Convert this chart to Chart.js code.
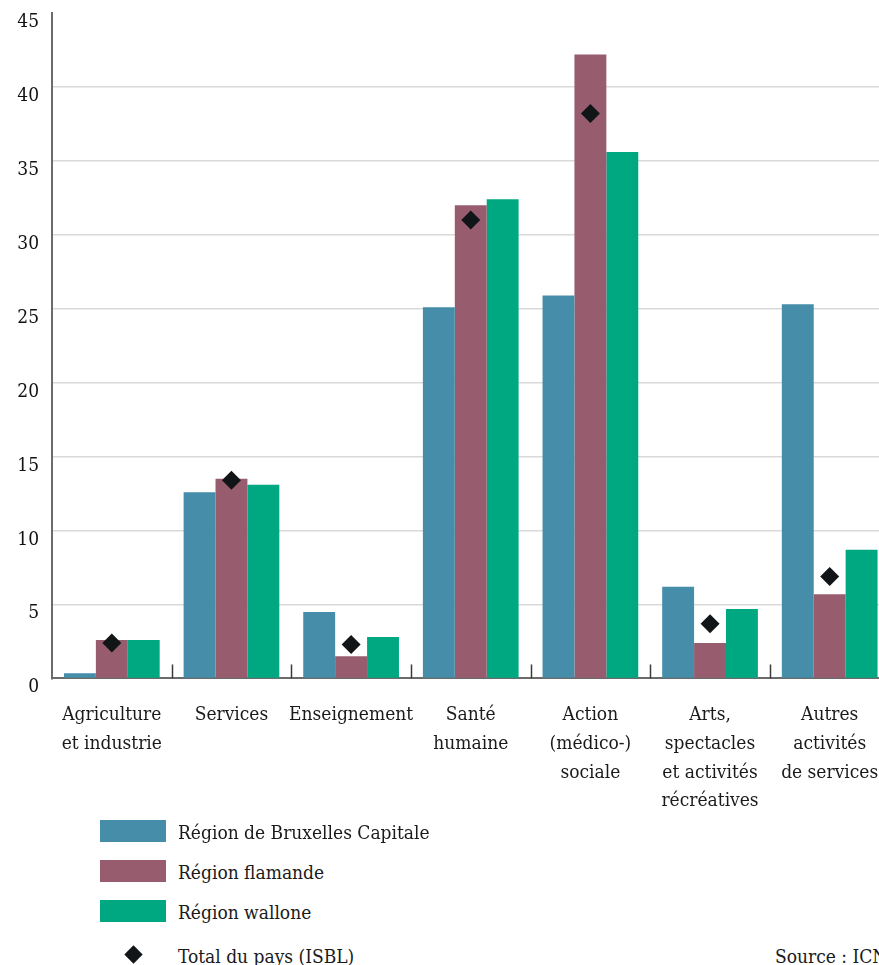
<!DOCTYPE html>
<html lang="fr">
<head>
<meta charset="utf-8">
<title>ISBL par branche d'activité et par région</title>
<script src="https://cdn.jsdelivr.net/npm/chart.js@4.4.1/dist/chart.umd.min.js"></script>
<style>
    html, body {
        margin: 0;
        padding: 0;
        background: #fff;
        width: 879px;
        height: 965px;
        overflow: hidden;
    }
    #wrap {
        position: relative;
        width: 879px;
        height: 965px;
        overflow: hidden;
        font-family: "DejaVu Serif Condensed", "Liberation Serif", serif;
        color: #1a1a1a;
    }
    #chartBox {
        position: absolute;
        left: 0;
        top: 0;
        width: 899px;
        height: 830px;
    }
    .legend-row {
        position: absolute;
        left: 100px;
        height: 22px;
        font-size: 19px;
        line-height: 22px;
        white-space: nowrap;
    }
    .legend-row .swatch {
        position: absolute;
        left: 0;
        top: 0;
        width: 66px;
        height: 22px;
    }
    .legend-row .txt {
        position: absolute;
        left: 78px;
        top: 1px;
    }
    .legend-row .diamond {
        position: absolute;
        left: 27px;
        top: 4px;
        width: 13px;
        height: 13px;
        background: #121518;
        transform: rotate(45deg);
    }
    #source {
        position: absolute;
        left: 775px;
        top: 945px;
        font-size: 19px;
        white-space: nowrap;
    }
</style>
</head>
<body>
<div id="wrap">
    <div id="chartBox"><canvas id="isblChart" width="899" height="830"></canvas></div>
    <div id="legend"></div>
    <div id="source">Source : ICN</div>
</div>

<script>
// ========================================
// Data
// ========================================
const categories = [
    ['Agriculture', 'et industrie'],
    ['Services'],
    ['Enseignement'],
    ['Santé', 'humaine'],
    ['Action', '(médico-)', 'sociale'],
    ['Arts,', 'spectacles', 'et activités', 'récréatives'],
    ['Autres', 'activités', 'de services']
];

const bruxelles = [0.35, 12.6, 4.5, 25.1, 25.9, 6.2, 25.3];
const flandre   = [2.6, 13.5, 1.5, 32.0, 42.2, 2.4, 5.7];
const wallonie  = [2.6, 13.1, 2.8, 32.4, 35.6, 4.7, 8.7];
const totalPays = [2.4, 13.4, 2.3, 31.0, 38.2, 3.7, 6.9];

const yTicks = [0, 5, 10, 15, 20, 25, 30, 35, 40, 45];

const seriesNames = [
    'Région de Bruxelles Capitale',
    'Région flamande',
    'Région wallone',
    'Total du pays (ISBL)'
];

const colors = {
    bruxelles: '#458da9',
    flandre: '#975c6e',
    wallonie: '#00a882',
    total: '#121518',
    axis: '#6b6b6b',
    grid: 'rgba(0, 0, 0, 0.15)'
};

const FONT = '"DejaVu Serif Condensed", "Liberation Serif", serif';

// ========================================
// Small tick marks between categories, on the x axis
// ========================================
const separatorTicks = {
    id: 'separatorTicks',
    afterDatasetsDraw(chart) {
        const x = chart.scales.x;
        const bottom = chart.chartArea.bottom;
        const ctx = chart.ctx;
        ctx.save();
        ctx.strokeStyle = '#3a3a3a';
        ctx.lineWidth = 1.5;
        for (let i = 0; i < categories.length - 1; i++) {
            const px = Math.round((x.getPixelForValue(i) + x.getPixelForValue(i + 1)) / 2) + 0.5;
            ctx.beginPath();
            ctx.moveTo(px, bottom - 14);
            ctx.lineTo(px, bottom);
            ctx.stroke();
        }
        ctx.restore();
    }
};

// ========================================
// Chart
// ========================================
const ctx = document.getElementById('isblChart');

const barBase = {
    type: 'bar',
    categoryPercentage: 0.8,
    barPercentage: 1.0,
    borderWidth: 0,
    order: 2
};

const chart = new Chart(ctx, {
    data: {
        labels: categories,
        datasets: [
            Object.assign({}, barBase, {
                label: seriesNames[0],
                data: bruxelles,
                backgroundColor: colors.bruxelles
            }),
            Object.assign({}, barBase, {
                label: seriesNames[1],
                data: flandre,
                backgroundColor: colors.flandre
            }),
            Object.assign({}, barBase, {
                label: seriesNames[2],
                data: wallonie,
                backgroundColor: colors.wallonie
            }),
            {
                type: 'line',
                label: seriesNames[3],
                data: totalPays,
                showLine: false,
                pointStyle: 'rectRot',
                pointRadius: 9.5,
                pointBackgroundColor: colors.total,
                pointBorderWidth: 0,
                order: 0
            }
        ]
    },
    options: {
        responsive: false,
        animation: false,
        layout: {
            padding: { top: 13, left: 0, right: 0, bottom: 0 }
        },
        plugins: {
            legend: { display: false },
            tooltip: { enabled: false }
        },
        scales: {
            x: {
                offset: true,
                grid: { display: false },
                border: { display: true, color: colors.axis, width: 2 },
                ticks: {
                    color: '#1a1a1a',
                    padding: 14,
                    maxRotation: 0,
                    autoSkip: false,
                    font: { family: FONT, size: 19, lineHeight: 1.52 }
                }
            },
            y: {
                min: 0,
                max: 45,
                z: 1,
                afterBuildTicks(scale) {
                    scale.ticks = yTicks.map(v => ({ value: v }));
                },
                afterFit(scale) {
                    // labels sit below their gridline, so no extra room above the top tick
                    scale.width = 52;
                    scale.paddingTop = 0;
                    scale.paddingBottom = 0;
                },
                grid: {
                    drawTicks: false,
                    lineWidth: 1.5,
                    color: c => (c.tick.value === 0 || c.tick.value === 45) ? 'rgba(0,0,0,0)' : colors.grid
                },
                border: { display: true, color: colors.axis, width: 2 },
                ticks: {
                    color: '#111',
                    padding: 13,
                    labelOffset: 9,
                    font: { family: FONT, size: 19 }
                }
            }
        }
    },
    plugins: [separatorTicks]
});

// ========================================
// Legend (HTML, below the chart)
// ========================================
const legendEl = document.getElementById('legend');
const legendRows = [
    { name: seriesNames[0], color: colors.bruxelles, top: 820 },
    { name: seriesNames[1], color: colors.flandre, top: 860 },
    { name: seriesNames[2], color: colors.wallonie, top: 900 },
    { name: seriesNames[3], color: null, top: 944 }
];
legendRows.forEach(row => {
    const div = document.createElement('div');
    div.className = 'legend-row';
    div.style.top = row.top + 'px';
    const mark = document.createElement('span');
    if (row.color) {
        mark.className = 'swatch';
        mark.style.background = row.color;
    } else {
        mark.className = 'diamond';
    }
    const txt = document.createElement('span');
    txt.className = 'txt';
    txt.textContent = row.name;
    div.appendChild(mark);
    div.appendChild(txt);
    legendEl.appendChild(div);
});
</script>
</body>
</html>
